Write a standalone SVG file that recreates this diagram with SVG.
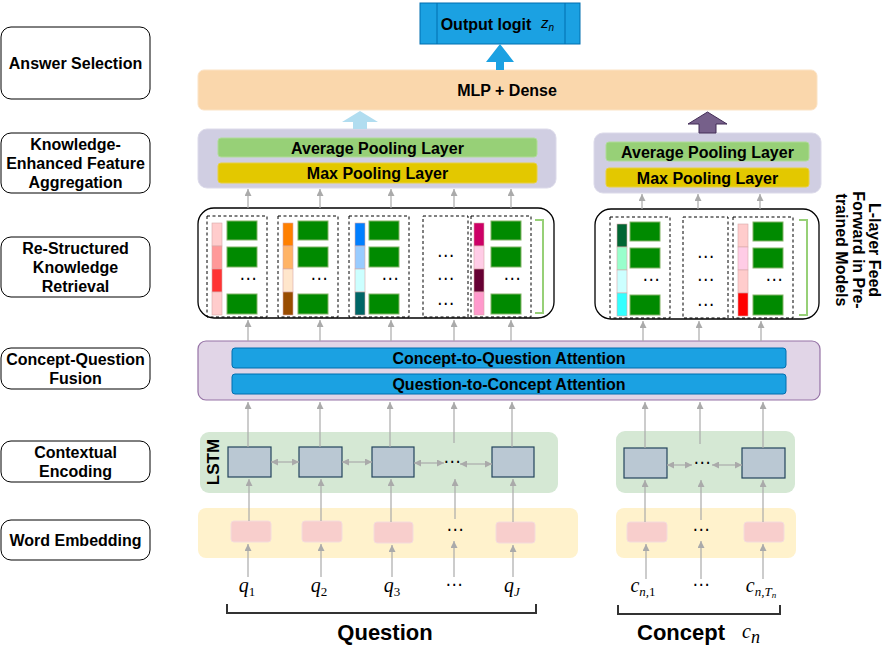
<svg xmlns="http://www.w3.org/2000/svg" xmlns:xlink="http://www.w3.org/1999/xlink" width="889" height="669" viewBox="0 0 889 669">
<style>
text{font-family:"Liberation Sans",Arial,sans-serif;}
.b{font-weight:bold;font-size:16px;fill:#000;}
.lab{fill:#fff;stroke:#000;stroke-width:1;}
.m{font-family:"Liberation Serif","Times New Roman",serif;font-style:italic;font-size:20px;}
.up{font-style:normal;}
.dots{font-family:"DejaVu Sans",sans-serif;font-size:17px;}
.dash{fill:none;stroke:#000;stroke-width:1;stroke-dasharray:3 2.5;}
.gr{fill:#008a00;stroke:#82b366;stroke-width:1;}
.seg{stroke:#d8a8a8;stroke-width:0.6;}
.arr{stroke:#aaa;stroke-width:1.2;fill:none;marker-end:url(#ah);}
.bi{stroke:#aaa;stroke-width:1.2;fill:none;marker-end:url(#ah);marker-start:url(#ah);}
.cell{fill:#bac8d3;stroke:#23445d;stroke-width:1.2;}
.emb{fill:#f8cecc;stroke:#f4dcdc;stroke-width:1;}
.attn{fill:#1ba1e2;stroke:#006eaf;stroke-width:1;}
.avg{fill:#97d077;stroke:#b0dc98;stroke-width:1;}
.max{fill:#e3c800;stroke:#e8d040;stroke-width:1;}
.pool{fill:#d0cee2;stroke:#dcdaea;stroke-width:1;}
.kr{fill:#fff;stroke:#000;stroke-width:1.3;}
.brk{fill:none;stroke:#97d077;stroke-width:2;}
</style>
<defs>
<marker id="ah" viewBox="0 0 10 10" refX="10" refY="5" markerWidth="7" markerHeight="7" markerUnits="userSpaceOnUse" orient="auto-start-reverse">
<path d="M0,0 L10,5 L0,10 z" fill="#aaa"/>
</marker>
<g id="kcol">
<rect class="dash" x="0" y="0" width="60" height="101"/>
<rect class="gr" x="20" y="5" width="30" height="19"/>
<rect class="gr" x="20" y="31" width="30" height="20"/>
<rect class="gr" x="20" y="78" width="30" height="20"/>
<text class="dots" x="41" y="68" text-anchor="middle">⋯</text>
</g>
<g id="kmid">
<rect class="dash" x="0" y="0" width="45" height="101"/>
<text class="dots" x="22.5" y="45" text-anchor="middle">⋯</text>
<text class="dots" x="22.5" y="68" text-anchor="middle">⋯</text>
<text class="dots" x="22.5" y="93" text-anchor="middle">⋯</text>
</g>
</defs>

<!-- left stage labels -->
<g id="label-answer"><rect class="lab" x="1" y="27" width="149" height="72" rx="10"/><text class="b" x="75.5" y="68.5" text-anchor="middle">Answer Selection</text></g>
<g id="label-aggregation"><rect class="lab" x="1" y="133" width="149" height="60" rx="10"/><text class="b" text-anchor="middle"><tspan x="75.5" y="149.5">Knowledge-</tspan><tspan x="75.5" y="168.5">Enhanced Feature</tspan><tspan x="75.5" y="187.5">Aggregation</tspan></text></g>
<g id="label-retrieval"><rect class="lab" x="1" y="237" width="149" height="60" rx="10"/><text class="b" text-anchor="middle"><tspan x="75.5" y="253.5">Re-Structured</tspan><tspan x="75.5" y="272.5">Knowledge</tspan><tspan x="75.5" y="291.5">Retrieval</tspan></text></g>
<g id="label-fusion"><rect class="lab" x="1" y="348" width="149" height="41" rx="10"/><text class="b" text-anchor="middle"><tspan x="75.5" y="364.5">Concept-Question</tspan><tspan x="75.5" y="383.5">Fusion</tspan></text></g>
<g id="label-encoding"><rect class="lab" x="1" y="441" width="149" height="41" rx="10"/><text class="b" text-anchor="middle"><tspan x="75.5" y="457.5">Contextual</tspan><tspan x="75.5" y="476.5">Encoding</tspan></text></g>
<g id="label-embedding"><rect class="lab" x="1" y="520" width="149" height="40" rx="10"/><text class="b" x="75.5" y="545.5" text-anchor="middle">Word Embedding</text></g>

<!-- output -->
<g id="output">
<rect x="420" y="3" width="160" height="41" fill="#1ba1e2" stroke="#006eaf" stroke-width="1"/>
<line x1="437" y1="3" x2="437" y2="44" stroke="#006eaf"/>
<line x1="565" y1="3" x2="565" y2="44" stroke="#006eaf"/>
<text class="b" x="486" y="29.5" text-anchor="middle">Output logit</text>
<text x="541" y="28" font-family="Liberation Serif,serif" font-style="italic" font-size="15">z<tspan font-size="10" dy="3">n</tspan></text>
</g>

<g id="mlp">
<rect x="198" y="70" width="619" height="40" rx="6" fill="#fad7ac" stroke="#fbe3c5"/>
<text class="b" x="507" y="96" text-anchor="middle">MLP + Dense</text>
</g>

<!-- pooling -->
<g id="pool-question">
<rect class="pool" x="198" y="129" width="358" height="59" rx="9"/>
<rect class="avg" x="218" y="138" width="319" height="19" rx="3"/>
<text class="b" x="377.5" y="153.5" text-anchor="middle">Average Pooling Layer</text>
<rect class="max" x="218" y="163" width="319" height="20" rx="3"/>
<text class="b" x="377.5" y="179" text-anchor="middle">Max Pooling Layer</text>
</g>
<g id="pool-concept">
<rect class="pool" x="594" y="133" width="227" height="60" rx="9"/>
<rect class="avg" x="606" y="142" width="203" height="19" rx="3"/>
<text class="b" x="707.5" y="157.5" text-anchor="middle">Average Pooling Layer</text>
<rect class="max" x="606" y="168" width="203" height="19" rx="3"/>
<text class="b" x="707.5" y="183.5" text-anchor="middle">Max Pooling Layer</text>
</g>

<!-- knowledge retrieval question side -->
<g id="retrieval-question">
<rect class="kr" x="198" y="208" width="356" height="110" rx="16"/>
<use xlink:href="#kcol" x="207" y="216"/>
<use xlink:href="#kcol" x="278" y="216"/>
<use xlink:href="#kcol" x="349" y="216"/>
<use xlink:href="#kmid" x="423" y="216"/>
<use xlink:href="#kcol" x="471" y="216"/>
<g class="seg">
<rect x="212" y="223" width="10" height="23" fill="#ffcccc"/><rect x="212" y="246" width="10" height="23" fill="#ff9999"/><rect x="212" y="269" width="10" height="23" fill="#ff3333"/><rect x="212" y="292" width="10" height="23" fill="#ffcccc"/>
<rect x="283" y="223" width="10" height="23" fill="#ff8000"/><rect x="283" y="246" width="10" height="23" fill="#ffb366"/><rect x="283" y="269" width="10" height="23" fill="#ffe6cc"/><rect x="283" y="292" width="10" height="23" fill="#994c00"/>
<rect x="355" y="223" width="10" height="23" fill="#007fff"/><rect x="355" y="246" width="10" height="23" fill="#99ccff"/><rect x="355" y="269" width="10" height="23" fill="#ccffff"/><rect x="355" y="292" width="10" height="23" fill="#006666"/>
<rect x="474" y="223" width="10" height="23" fill="#cc0066"/><rect x="474" y="246" width="10" height="23" fill="#ffcce6"/><rect x="474" y="269" width="10" height="23" fill="#660033"/><rect x="474" y="292" width="10" height="23" fill="#ff99cc"/>
</g>
<path class="brk" d="M535,220 H543 V313 H535"/>
</g>

<!-- knowledge retrieval concept side -->
<g id="retrieval-concept">
<rect class="kr" x="595" y="209" width="224" height="110" rx="16"/>
<use xlink:href="#kcol" x="610" y="217"/>
<use xlink:href="#kmid" x="683" y="217"/>
<use xlink:href="#kcol" x="733" y="217"/>
<g class="seg">
<rect x="617" y="224" width="10" height="23" fill="#006633"/><rect x="617" y="247" width="10" height="23" fill="#99ffcc"/><rect x="617" y="270" width="10" height="23" fill="#ccffff"/><rect x="617" y="293" width="10" height="23" fill="#33ffff"/>
<rect x="738" y="224" width="10" height="23" fill="#ffcccc"/><rect x="738" y="247" width="10" height="23" fill="#ffcce6"/><rect x="738" y="270" width="10" height="23" fill="#ffcccc"/><rect x="738" y="293" width="10" height="23" fill="#ff0000"/>
</g>
<path class="brk" d="M799,220 H807 V315 H799"/>
</g>

<g id="side-note">
<text class="b" text-anchor="middle" transform="translate(869,250) rotate(90)"><tspan x="0" y="0">L-layer Feed</tspan><tspan x="0" y="16.5">Forward in Pre-</tspan><tspan x="0" y="33">trained Models</tspan></text>
</g>

<!-- fusion -->
<g id="fusion">
<rect x="198" y="341" width="622" height="59" rx="8" fill="#e1d5e7" stroke="#9673a6" stroke-width="1.2"/>
<rect class="attn" x="232" y="348" width="554" height="20" rx="3"/>
<text class="b" x="509" y="363.5" text-anchor="middle">Concept-to-Question Attention</text>
<rect class="attn" x="232" y="374" width="554" height="20" rx="3"/>
<text class="b" x="509" y="389.5" text-anchor="middle">Question-to-Concept Attention</text>
</g>

<!-- LSTM -->
<g id="lstm-question">
<rect x="200" y="432" width="358" height="61" rx="9" fill="#d5e8d4"/>
<text font-weight="bold" font-size="17" text-anchor="middle" transform="translate(218.5,462) rotate(-90)">LSTM</text>
<rect class="cell" x="228" y="447" width="43" height="30"/>
<rect class="cell" x="299" y="447" width="43" height="30"/>
<rect class="cell" x="372" y="447" width="42" height="30"/>
<rect class="cell" x="492" y="447" width="42" height="30"/>
<text class="dots" x="452" y="467" text-anchor="middle">⋯</text>
</g>
<g id="lstm-concept">
<rect x="616" y="431" width="179" height="62" rx="9" fill="#d5e8d4"/>
<rect class="cell" x="624" y="448" width="43" height="30"/>
<rect class="cell" x="742" y="448" width="43" height="30"/>
<text class="dots" x="702" y="468" text-anchor="middle">⋯</text>
</g>

<!-- embedding -->
<g id="embed-question">
<rect x="198" y="508" width="380" height="50" rx="8" fill="#fff2cc"/>
<rect class="emb" x="231" y="521" width="40" height="21" rx="3"/>
<rect class="emb" x="302" y="521" width="40" height="21" rx="3"/>
<rect class="emb" x="374" y="522" width="39" height="21" rx="3"/>
<rect class="emb" x="496" y="522" width="39" height="21" rx="3"/>
<text class="dots" x="455" y="535" text-anchor="middle">⋯</text>
</g>
<g id="embed-concept">
<rect x="616" y="508" width="180" height="50" rx="8" fill="#fff2cc"/>
<rect class="emb" x="627" y="522" width="40" height="20" rx="3"/>
<rect class="emb" x="744" y="522" width="40" height="20" rx="3"/>
<text class="dots" x="701" y="535" text-anchor="middle">⋯</text>
</g>

<!-- inputs -->
<g id="inputs-question">
<text class="m" x="247" y="592" text-anchor="middle">q<tspan class="up" font-size="13" dy="4">1</tspan></text>
<text class="m" x="319" y="592" text-anchor="middle">q<tspan class="up" font-size="13" dy="4">2</tspan></text>
<text class="m" x="392" y="592" text-anchor="middle">q<tspan class="up" font-size="13" dy="4">3</tspan></text>
<text class="dots" x="454" y="590" text-anchor="middle">⋯</text>
<text class="m" x="512" y="592" text-anchor="middle">q<tspan font-size="13" dy="4">J</tspan></text>
<path d="M227,604 V613 H536 V604" fill="none" stroke="#333" stroke-width="2"/>
<text font-weight="bold" font-size="22" x="385" y="640" text-anchor="middle">Question</text>
</g>
<g id="inputs-concept">
<text class="m" x="643" y="592" text-anchor="middle">c<tspan font-size="13" dy="4">n,<tspan class="up">1</tspan></tspan></text>
<text class="dots" x="701" y="590" text-anchor="middle">⋯</text>
<text class="m" x="761" y="592" text-anchor="middle">c<tspan font-size="13" dy="4">n,T<tspan font-size="9" dy="2">n</tspan></tspan></text>
<path d="M618,605 V614 H780 V605" fill="none" stroke="#333" stroke-width="2"/>
<text font-weight="bold" font-size="22" x="637" y="640">Concept</text>
<text class="m" x="742" y="638" font-size="28">c<tspan font-size="18" dy="5">n</tspan></text>
</g>

<!-- connectors -->
<g id="connectors">
<path d="M496,70 V62 H486 L500,44 L514,62 H504 V70 Z" fill="#1ba1e2"/>
<path d="M353,129 V122 H342 L360,111 L378,122 H367 V129 Z" fill="#b1ddf0"/>
<path d="M699,133 V124 H688 L707.5,112 L727,124 H716 V133 Z" fill="#76608a" stroke="#432d57" stroke-width="1"/>
<!-- retrieval to pooling -->
<line class="arr" x1="248" y1="208" x2="248" y2="189"/>
<line class="arr" x1="320" y1="208" x2="320" y2="189"/>
<line class="arr" x1="391" y1="208" x2="391" y2="189"/>
<line class="arr" x1="454" y1="208" x2="454" y2="189"/>
<line class="arr" x1="511" y1="208" x2="511" y2="189"/>
<line class="arr" x1="642" y1="209" x2="642" y2="194"/>
<line class="arr" x1="698" y1="209" x2="698" y2="194"/>
<line class="arr" x1="760" y1="209" x2="760" y2="194"/>
<!-- fusion to retrieval -->
<line class="arr" x1="248" y1="341" x2="248" y2="320"/>
<line class="arr" x1="320" y1="341" x2="320" y2="320"/>
<line class="arr" x1="391" y1="341" x2="391" y2="320"/>
<line class="arr" x1="454" y1="341" x2="454" y2="320"/>
<line class="arr" x1="511" y1="341" x2="511" y2="320"/>
<line class="arr" x1="643" y1="341" x2="643" y2="321"/>
<line class="arr" x1="699" y1="341" x2="699" y2="321"/>
<line class="arr" x1="761" y1="341" x2="761" y2="321"/>
<!-- lstm to fusion -->
<line class="arr" x1="248" y1="447" x2="248" y2="402"/>
<line class="arr" x1="320" y1="447" x2="320" y2="402"/>
<line class="arr" x1="390" y1="447" x2="390" y2="402"/>
<line class="arr" x1="454" y1="443" x2="454" y2="402"/>
<line class="arr" x1="512" y1="447" x2="512" y2="402"/>
<line class="arr" x1="645" y1="448" x2="645" y2="402"/>
<line class="arr" x1="700" y1="444" x2="700" y2="402"/>
<line class="arr" x1="763" y1="448" x2="763" y2="402"/>
<!-- lstm horizontal -->
<line class="bi" x1="271" y1="462" x2="299" y2="462"/>
<line class="bi" x1="342" y1="462" x2="372" y2="462"/>
<line class="bi" x1="414" y1="463" x2="444" y2="463"/>
<line class="bi" x1="460" y1="464" x2="492" y2="464"/>
<line class="bi" x1="667" y1="465" x2="692" y2="465"/>
<line class="bi" x1="712" y1="465" x2="742" y2="465"/>
<!-- embedding to lstm -->
<line class="arr" x1="249" y1="521" x2="249" y2="479"/>
<line class="arr" x1="321" y1="521" x2="321" y2="479"/>
<line class="arr" x1="391" y1="522" x2="391" y2="479"/>
<line class="arr" x1="455" y1="519" x2="455" y2="479"/>
<line class="arr" x1="513" y1="522" x2="513" y2="479"/>
<line class="arr" x1="645" y1="522" x2="645" y2="480"/>
<line class="arr" x1="701" y1="520" x2="701" y2="480"/>
<line class="arr" x1="763" y1="522" x2="763" y2="480"/>
<!-- inputs to embedding -->
<line class="arr" x1="248" y1="577" x2="248" y2="544"/>
<line class="arr" x1="321" y1="577" x2="321" y2="544"/>
<line class="arr" x1="392" y1="577" x2="392" y2="545"/>
<line class="arr" x1="454" y1="577" x2="454" y2="541"/>
<line class="arr" x1="513" y1="577" x2="513" y2="545"/>
<line class="arr" x1="646" y1="579" x2="646" y2="544"/>
<line class="arr" x1="701" y1="579" x2="701" y2="541"/>
<line class="arr" x1="763" y1="579" x2="763" y2="544"/>
</g>
</svg>
